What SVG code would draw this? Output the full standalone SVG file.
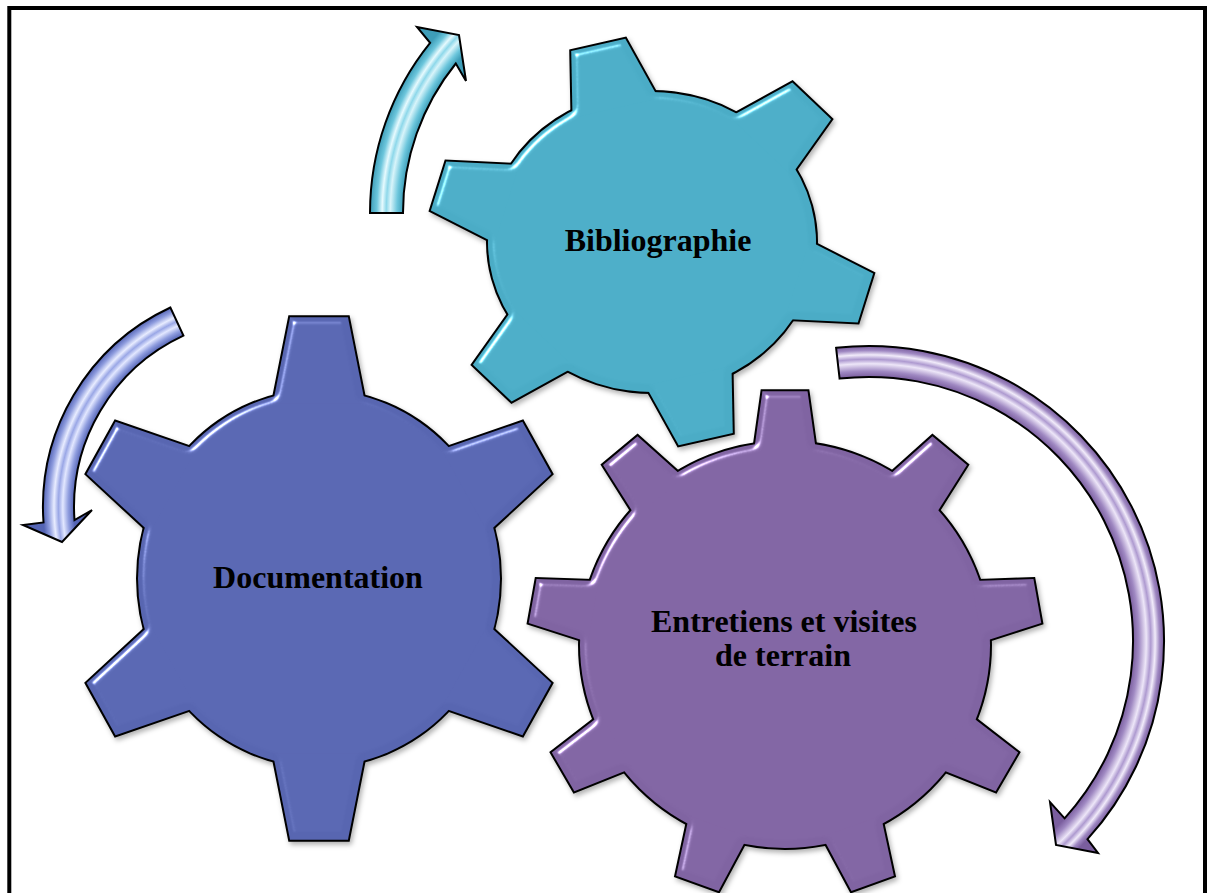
<svg xmlns="http://www.w3.org/2000/svg" xmlns:xlink="http://www.w3.org/1999/xlink" width="1208" height="893" viewBox="0 0 1208 893">
<style>
.label{font-family:"Liberation Serif","Times New Roman",serif;font-weight:bold;font-size:32px;fill:#000;text-anchor:middle}
.outline{fill:#000;stroke:#000;stroke-width:4;stroke-linejoin:miter}
.arrow{stroke:#000;stroke-width:2;stroke-linejoin:miter}
</style>
<defs>
  <filter id="bevel" x="-5%" y="-5%" width="110%" height="110%" color-interpolation-filters="sRGB">
    <feGaussianBlur in="SourceAlpha" stdDeviation="3" result="b"/>
    <feSpecularLighting in="b" surfaceScale="5" specularConstant="1.2" specularExponent="45" lighting-color="#ffffff" result="s">
      <feDistantLight azimuth="225" elevation="40"/>
    </feSpecularLighting>
    <feComposite in="s" in2="SourceAlpha" operator="in" result="si"/>
    <feComposite in="SourceGraphic" in2="si" operator="arithmetic" k1="0" k2="1" k3="0.75" k4="0"/>
  </filter>
  <filter id="shadow" x="-10%" y="-10%" width="120%" height="120%" color-interpolation-filters="sRGB">
    <feDropShadow dx="2" dy="3" stdDeviation="2.5" flood-color="#000" flood-opacity="0.3"/>
  </filter>
  <g id="gear-a">
    <circle r="1" vector-effect="non-scaling-stroke"/>
    <path id="tooth-a" d="M-0.255,-0.93 L-0.16,-1.39 L0.16,-1.39 L0.255,-0.93 Z" vector-effect="non-scaling-stroke"/>
    <use xlink:href="#tooth-a" transform="rotate(60)"/>
    <use xlink:href="#tooth-a" transform="rotate(120)"/>
    <use xlink:href="#tooth-a" transform="rotate(180)"/>
    <use xlink:href="#tooth-a" transform="rotate(240)"/>
    <use xlink:href="#tooth-a" transform="rotate(300)"/>
  </g>
  <g id="gear-b">
    <circle r="1" vector-effect="non-scaling-stroke"/>
    <path id="tooth-b" d="M-0.27,-0.92 L-0.17,-1.354 L0.17,-1.354 L0.27,-0.92 Z" vector-effect="non-scaling-stroke"/>
    <use xlink:href="#tooth-b" transform="rotate(60)"/>
    <use xlink:href="#tooth-b" transform="rotate(120)"/>
    <use xlink:href="#tooth-b" transform="rotate(180)"/>
    <use xlink:href="#tooth-b" transform="rotate(240)"/>
    <use xlink:href="#tooth-b" transform="rotate(300)"/>
  </g>
  <g id="gear-c">
    <circle r="1" vector-effect="non-scaling-stroke"/>
    <path id="tooth-c" d="M-0.152,-0.95 L-0.11,-1.25 L0.11,-1.25 L0.152,-0.95 Z" vector-effect="non-scaling-stroke"/>
    <use xlink:href="#tooth-c" transform="rotate(40)"/>
    <use xlink:href="#tooth-c" transform="rotate(80)"/>
    <use xlink:href="#tooth-c" transform="rotate(120)"/>
    <use xlink:href="#tooth-c" transform="rotate(160)"/>
    <use xlink:href="#tooth-c" transform="rotate(200)"/>
    <use xlink:href="#tooth-c" transform="rotate(240)"/>
    <use xlink:href="#tooth-c" transform="rotate(280)"/>
    <use xlink:href="#tooth-c" transform="rotate(320)"/>
  </g>
  <radialGradient id="grad-teal" gradientUnits="userSpaceOnUse" cx="641" cy="213" r="271">
    <stop offset="0.878" stop-color="#3E9DB8"/>
    <stop offset="0.90" stop-color="#6CC6DC"/>
    <stop offset="0.925" stop-color="#D8F4FA"/>
    <stop offset="0.94" stop-color="#8ED8EA"/>
    <stop offset="0.955" stop-color="#E6FAFE"/>
    <stop offset="0.975" stop-color="#6CC6DC"/>
    <stop offset="1" stop-color="#3E9DB8"/>
  </radialGradient>
  <radialGradient id="grad-blue" gradientUnits="userSpaceOnUse" cx="263" cy="507" r="220">
    <stop offset="0.859" stop-color="#5464B4"/>
    <stop offset="0.885" stop-color="#8E9CDE"/>
    <stop offset="0.91" stop-color="#E2E7FF"/>
    <stop offset="0.93" stop-color="#9AA7E6"/>
    <stop offset="0.95" stop-color="#E8ECFF"/>
    <stop offset="0.975" stop-color="#8E9CDE"/>
    <stop offset="1" stop-color="#5464B4"/>
  </radialGradient>
  <radialGradient id="grad-purple" gradientUnits="userSpaceOnUse" cx="869" cy="641" r="295">
    <stop offset="0.895" stop-color="#7A5E9E"/>
    <stop offset="0.915" stop-color="#9F88C2"/>
    <stop offset="0.94" stop-color="#EDE6F8"/>
    <stop offset="0.955" stop-color="#AE9AD0"/>
    <stop offset="0.97" stop-color="#F1EBFA"/>
    <stop offset="0.985" stop-color="#9F88C2"/>
    <stop offset="1" stop-color="#7A5E9E"/>
  </radialGradient>
</defs>

<rect x="9.3" y="8" width="1195.7" height="900" fill="none" stroke="#000" stroke-width="4"/>

<g id="node-bibliographie">
  <g filter="url(#shadow)"><use xlink:href="#gear-b" class="outline" transform="translate(652,242) scale(164,150) rotate(-14)"/></g>
  <g filter="url(#bevel)"><use xlink:href="#gear-b" fill="#4BACC6" transform="translate(652,242) scale(164,150) rotate(-14)"/></g>
  <text class="label" x="658" y="251">Bibliographie</text>
</g>

<g id="node-documentation">
  <g filter="url(#shadow)"><use xlink:href="#gear-a" class="outline" transform="translate(319,578.5) scale(181,188)"/></g>
  <g filter="url(#bevel)"><use xlink:href="#gear-a" fill="#5866B1" transform="translate(319,578.5) scale(181,188)"/></g>
  <text class="label" x="318" y="588">Documentation</text>
</g>

<g id="node-entretiens">
  <g filter="url(#shadow)"><use xlink:href="#gear-c" class="outline" transform="translate(785,645) scale(205,203)"/></g>
  <g filter="url(#bevel)"><use xlink:href="#gear-c" fill="#8064A2" transform="translate(785,645) scale(205,203)"/></g>
  <text class="label" x="784" y="632">Entretiens et visites</text>
  <text class="label" x="783" y="666">de terrain</text>
</g>

<g id="connectors">
  <path class="arrow" fill="url(#grad-teal)" d="M370,213 A271,271 0 0 1 430.1,42.8 L417,27 L459,35 L466,81 L455.8,63.5 A238,238 0 0 0 403,213 Z"/>
  <path class="arrow" fill="url(#grad-blue)" d="M170.4,307.5 A220,220 0 0 0 43.5,522.4 L23,525 L62,542 L92,510 L74.5,520.2 A189,189 0 0 1 183.4,335.6 Z"/>
  <path class="arrow" fill="url(#grad-purple)" d="M836.1,347.8 A295,295 0 0 1 1087.5,839.2 L1098,853 L1056,845 L1050,802 L1064.6,818.3 A264,264 0 0 0 839.6,378.6 Z"/>
</g>
</svg>
